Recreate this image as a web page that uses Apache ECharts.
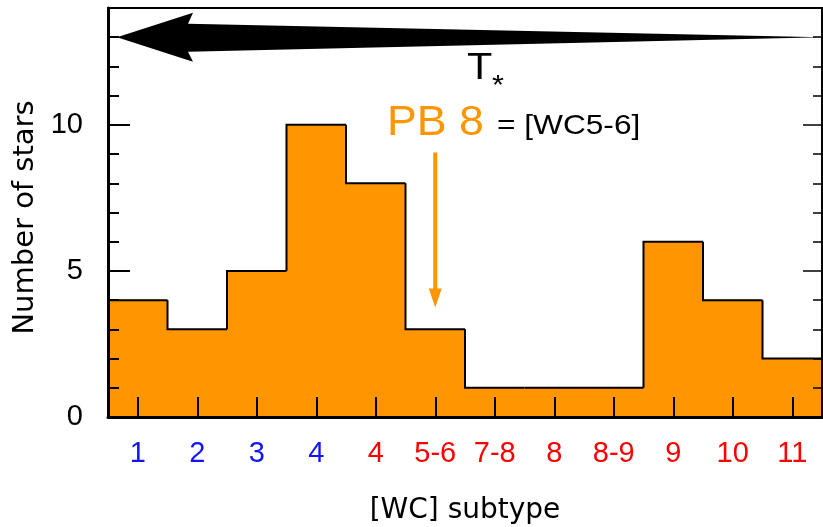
<!DOCTYPE html>
<html>
<head>
<meta charset="utf-8">
<script src="https://cdn.jsdelivr.net/npm/echarts@6/dist/echarts.min.js"></script>
<style>html,body{margin:0;padding:0;background:#fff}#c{width:823px;height:527px}</style>
</head>
<body>
<div id="c"></div>
<script>
const subtypes = ['1','2','3','4','4','5-6','7-8','8','8-9','9','10','11'];
const labelClass = ['b','b','b','b','r','r','r','r','r','r','r','r'];
const counts = [4,3,5,10,8,3,1,1,1,6,4,2];
const yTicks = [0,5,10];

const FONT = 'Liberation Sans';
const TITLE_FONT = 'DejaVu Sans';
const ORANGE = '#FF9500';
const chart = echarts.init(document.getElementById('c'), null, {renderer:'canvas'});

const GRID = {left:108, right:1, top:8, bottom:110};

function yAxisBase(extra) {
  return Object.assign({
    type:'value', min:0, max:14, z:10,
    splitLine:{show:false},
    axisLine:{show:true, lineStyle:{color:'#000', width:2}},
    axisLabel:{show:false},
  }, extra);
}

chart.setOption({
  animation:false,
  grid:{left:GRID.left, right:GRID.right, top:GRID.top, bottom:GRID.bottom, containLabel:false, outerBoundsMode:'none',
    show:true, borderColor:'#000', borderWidth:2, z:10},
  xAxis:[{
    type:'category', data:subtypes, boundaryGap:true, z:10,
    axisLine:{show:true, lineStyle:{color:'#000', width:3}},
    axisTick:{show:true, inside:true, length:20, alignWithLabel:true, interval:0, lineStyle:{color:'#000', width:2}},
    axisLabel:{
      show:true, interval:0, margin:22,
      formatter:(v, i) => '{' + labelClass[i] + '|' + subtypes[i] + '}',
      rich:{
        b:{color:'#1414FF', fontSize:29, fontFamily:FONT},
        r:{color:'#FF0000', fontSize:29, fontFamily:FONT}
      }
    },
    splitLine:{show:false},
    name:'[WC] subtype', nameLocation:'middle', nameGap:80,
    nameTextStyle:{fontSize:28, fontFamily:TITLE_FONT, color:'#000'}
  }],
  yAxis:[
    yAxisBase({
      position:'left', interval:5,
      axisLine:{show:true, lineStyle:{color:'#000', width:3}},
      axisTick:{show:true, inside:true, length:22, lineStyle:{color:'#000', width:2}},
      axisLabel:{show:true, showMaxLabel:false, margin:25, fontSize:29, fontFamily:FONT, color:'#000',
        padding:[6,0,0,0],
        formatter:v => yTicks.includes(v) ? String(v) : ''},
      name:'Number of stars', nameLocation:'middle', nameGap:68,
      nameTextStyle:{fontSize:29, fontFamily:TITLE_FONT, color:'#000', padding:[0,10,0,0]}
    }),
    yAxisBase({position:'left', interval:1,
      axisLine:{show:false},
      axisTick:{show:true, inside:true, length:11, lineStyle:{color:'#000', width:2}}}),
    yAxisBase({position:'right', interval:5,
      axisTick:{show:true, inside:true, length:19, lineStyle:{color:'#000', width:1.5}}}),
    yAxisBase({position:'right', interval:1,
      axisLine:{show:false},
      axisTick:{show:true, inside:true, length:9, lineStyle:{color:'#000', width:1.5}}})
  ],
  series:[{
    type:'custom',
    z:2,
    xAxisIndex:0, yAxisIndex:0,
    data:counts.map((v, i) => [i, v]),
    renderItem:(params, api) => {
      const i = api.value(0), v = api.value(1);
      const top = api.coord([i, v]);
      const base = api.coord([i, 0]);
      const w = api.size([1, 0])[0];
      const x0 = top[0] - w/2, x1 = top[0] + w/2;
      const prev = i > 0 ? counts[i-1] : 0;
      const yPrev = api.coord([i, prev])[1];
      const pts = [[x0, yPrev], [x0, top[1]], [x1, top[1]]];
      if (i === counts.length - 1) pts.push([x1, base[1]]);
      return {
        type:'group',
        children:[
          {type:'rect', shape:{x:x0 - 0.6, y:top[1], width:w + 1.2, height:base[1]-top[1]}, style:{fill:ORANGE}, z2:0},
          {type:'polyline', shape:{points:pts}, style:{stroke:'#000', lineWidth:2, fill:null}, z2:5}
        ]
      };
    }
  }]
});

// Annotations
const yArrow = chart.convertToPixel({yAxisIndex:0}, 13);
const xLeft = GRID.left;
const xRight = 823 - GRID.right;
const x56 = chart.convertToPixel({xAxisIndex:0}, 5);
const yArrTop = chart.convertToPixel({yAxisIndex:0}, 9.05);
const yArrTip = chart.convertToPixel({yAxisIndex:0}, 3.75);
const yArrHead = chart.convertToPixel({yAxisIndex:0}, 4.4);

chart.setOption({
  graphic:[
    {type:'polygon', z:20, shape:{points:[
      [xLeft+9, yArrow],
      [xLeft+85, yArrow - 24.5],
      [xLeft+80, yArrow - 13.5],
      [xRight, yArrow],
      [xLeft+80, yArrow + 14.5],
      [xLeft+85, yArrow + 24.5]
    ]}, style:{fill:'#000'}},
    {type:'text', z:20, x:467, y:69, scaleX:1.12, style:{text:'T', x:0, y:0, font:'37px "Liberation Sans"', fill:'#000', align:'left', verticalAlign:'middle'}},
    {type:'text', z:20, x:492, y:86, scaleX:1.1, style:{text:'*', x:0, y:0, font:'28px "Liberation Sans"', fill:'#000', align:'left', verticalAlign:'middle'}},
    {type:'text', z:20, x:387, y:123, scaleX:1.04, style:{text:'PB 8', x:0, y:0, font:'43px "Liberation Sans"', fill:ORANGE, align:'left', verticalAlign:'middle'}},
    {type:'text', z:20, x:497, y:126, scaleX:1.13, style:{text:'= [WC5-6]', x:0, y:0, font:'28px "Liberation Sans"', fill:'#000', align:'left', verticalAlign:'middle'}},
    {type:'line', z:20, shape:{x1:x56, y1:yArrTop, x2:x56, y2:yArrHead+2}, style:{stroke:ORANGE, lineWidth:4}},
    {type:'polygon', z:20, shape:{points:[[x56-6.5, yArrHead],[x56+6.5, yArrHead],[x56, yArrTip]]}, style:{fill:ORANGE}}
  ]
});
</script>
</body>
</html>
